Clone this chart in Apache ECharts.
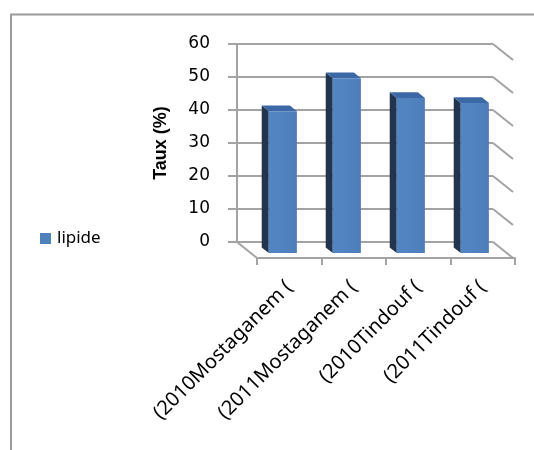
<!DOCTYPE html>
<html>
<head>
<meta charset="utf-8">
<script src="https://cdn.jsdelivr.net/npm/echarts@6/dist/echarts.min.js"></script>
<style>
  html, body { margin: 0; padding: 0; background: #ffffff; }
  #chart { width: 534px; height: 450px; }
</style>
</head>
<body>
<div id="chart"></div>
<script>
// Lipid rate per sample (site / year)
const categories = ['(2010Mostaganem (', '(2011Mostaganem (', '(2010Tindouf (', '(2011Tindouf ('];
const lipide = [43, 53, 47, 45.5];
const yTicks = [0, 10, 20, 30, 40, 50, 60];

// Oblique 3D look: floor depth from the back wall to the front edge (px)
const DEPTH = [20, 16];
const BAR_FRONT = 0.69;   // depth fraction of the bar's front face
const BAR_BACK = 0.34;    // depth fraction of the bar's back face
const BAR_WIDTH = 0.44;   // share of the category band

const GRID_LINE = '#a3a3a3';
const FONT_TICK = 'DejaVu Sans';
const FONT_TITLE = 'Liberation Sans';
const FONT_TEXT = 'Noto Sans';

const chart = echarts.init(document.getElementById('chart'), null, { renderer: 'canvas' });

// Columns: front face, left side face and top face
function renderColumn(params, api) {
  const cat = api.value(0);
  const v = api.value(1);
  const top = api.coord([cat, v]);
  const base = api.coord([cat, 0]);
  const band = api.size([1, 0])[0];
  const hw = band * BAR_WIDTH / 2;
  const fx = DEPTH[0] * BAR_FRONT, fy = DEPTH[1] * BAR_FRONT;
  const dx = DEPTH[0] * (BAR_BACK - BAR_FRONT);
  const dy = DEPTH[1] * (BAR_BACK - BAR_FRONT);
  const L = top[0] - hw + fx, R = top[0] + hw + fx;
  const T = top[1] + fy, B = base[1] + fy;
  return {
    type: 'group',
    children: [
      {
        type: 'polygon',
        shape: { points: [[L, T], [L + dx, T + dy], [L + dx, B + dy], [L, B]] },
        style: { fill: '#22354f' }
      },
      {
        type: 'polygon',
        shape: { points: [[L, T], [R, T], [R + dx, T + dy], [L + dx, T + dy]] },
        style: { fill: '#3d68a6' }
      },
      {
        type: 'rect',
        shape: { x: L, y: T, width: R - L, height: B - T },
        style: {
          fill: new echarts.graphic.LinearGradient(0, 0, 1, 0, [
            { offset: 0, color: '#5485c3' },
            { offset: 0.5, color: '#5183c0' },
            { offset: 1, color: '#4c7db9' }
          ])
        }
      }
    ]
  };
}

// Right side wall gridlines and left floor edge, following the value axis ticks
function renderWalls(params, api) {
  const t = api.value(1);
  const band = api.size([1, 0])[0];
  const right = api.coord([categories.length - 1, t])[0] + band / 2;
  const left = api.coord([0, t])[0] - band / 2;
  const y = api.coord([0, t])[1];
  const children = [{
    type: 'line',
    shape: { x1: right, y1: y, x2: right + DEPTH[0], y2: y + DEPTH[1] },
    style: { stroke: GRID_LINE, lineWidth: 2 }
  }];
  if (t === 0) {
    children.push({
      type: 'line',
      shape: { x1: left, y1: y, x2: left + DEPTH[0], y2: y + DEPTH[1] },
      style: { stroke: GRID_LINE, lineWidth: 2 }
    });
  }
  return { type: 'group', children: children };
}

const option = {
  animation: false,
  backgroundColor: '#ffffff',
  graphic: [{
    type: 'rect',
    shape: { x: 11, y: 14.5, width: 700, height: 700 },
    style: { fill: null, stroke: '#9c9c9c', lineWidth: 2 },
    silent: true,
    z: -10
  }],
  legend: {
    data: ['lipide'],
    orient: 'vertical',
    left: 35,
    top: 225,
    icon: 'rect',
    itemWidth: 11,
    itemHeight: 11,
    textStyle: { fontFamily: FONT_TEXT, fontSize: 17, color: '#000', padding: [0, 0, 0, 1] }
  },
  grid: [
    // back wall
    { left: 237, right: 41, top: 44, bottom: 208 },
    // front edge of the floor
    { left: 257, right: 19, top: 60, bottom: 192 }
  ],
  xAxis: [
    {
      gridIndex: 0, type: 'category', data: categories,
      axisLine: { show: false }, axisTick: { show: false }, axisLabel: { show: false },
      splitLine: { show: false }
    },
    {
      gridIndex: 1, type: 'category', data: categories,
      axisLine: { show: true, lineStyle: { color: GRID_LINE, width: 2 } },
      axisTick: { show: true, alignWithLabel: false, length: 7, lineStyle: { color: GRID_LINE, width: 2 } },
      axisLabel: {
        rotate: 45, margin: 26, interval: 0,
        fontFamily: FONT_TEXT, fontSize: 20, color: '#000'
      }
    }
  ],
  yAxis: [
    {
      gridIndex: 0, type: 'value', min: 0, max: 60, interval: 10,
      name: 'Taux (%)', nameLocation: 'middle', nameGap: 67, nameRotate: 90,
      nameTextStyle: { fontFamily: FONT_TITLE, fontSize: 18, fontWeight: 'bold', color: '#000' },
      axisLine: { show: true, lineStyle: { color: GRID_LINE, width: 2 } },
      axisTick: { show: true, length: 9, lineStyle: { color: GRID_LINE, width: 2 } },
      axisLabel: { margin: 27, fontFamily: FONT_TICK, fontSize: 17, color: '#000' },
      splitLine: { show: true, lineStyle: { color: GRID_LINE, width: 2 } }
    },
    {
      gridIndex: 1, type: 'value', min: 0, max: 60, show: false
    }
  ],
  series: [
    {
      name: 'walls',
      type: 'custom',
      xAxisIndex: 0, yAxisIndex: 0,
      silent: true,
      clip: false,
      renderItem: renderWalls,
      data: yTicks.map(t => [0, t]),
      z: 1
    },
    {
      name: 'lipide',
      type: 'custom',
      xAxisIndex: 0, yAxisIndex: 0,
      clip: false,
      itemStyle: { color: '#4f81bd' },
      renderItem: renderColumn,
      data: lipide.map((v, i) => [i, v]),
      z: 3
    }
  ]
};

chart.setOption(option);
</script>
</body>
</html>
